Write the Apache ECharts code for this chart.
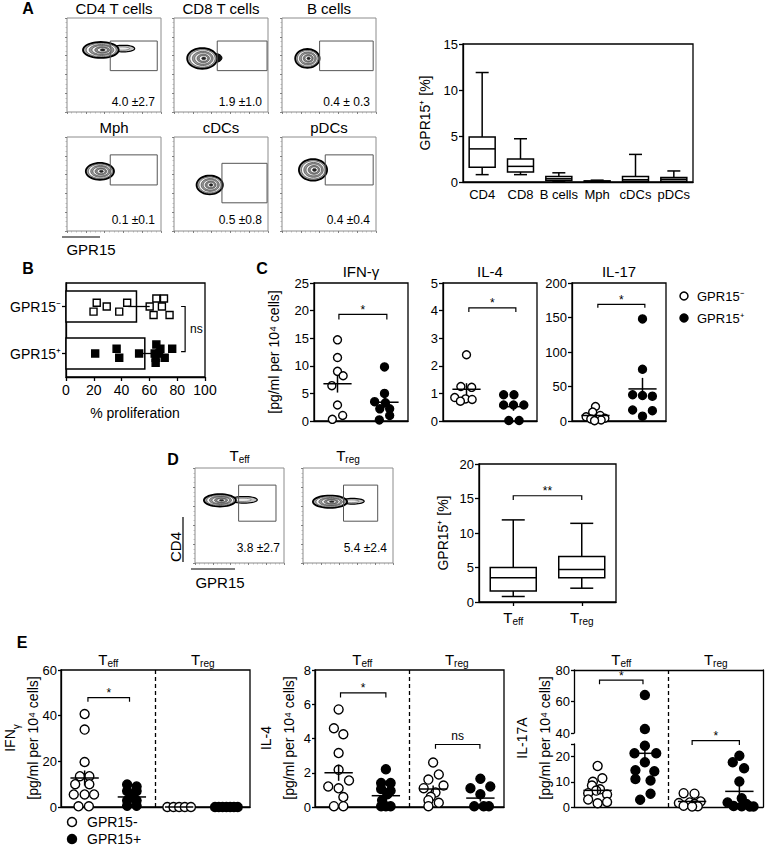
<!DOCTYPE html>
<html>
<head>
<meta charset="utf-8">
<title>GPR15 figure</title>
<script src="https://cdn.jsdelivr.net/npm/echarts@6.0.0/dist/echarts.min.js"></script>
<style>html,body{margin:0;padding:0;background:#fff;}#chart{width:766px;height:847px;}</style>
</head>
<body>
<div id="chart"></div>
<script>
// ======================= DATA =======================
// Panel A – flow cytometry panels
const flowTitlesA = ['CD4 T cells', 'CD8 T cells', 'B cells', 'Mph', 'cDCs', 'pDCs'];
const flowStatsA = ['4.0 \u00b12.7', '1.9 \u00b11.0', '0.4 \u00b1 0.3', '0.1 \u00b10.1', '0.5 \u00b10.8', '0.4 \u00b10.4'];
const flowGatesA = [[0.46,0.44,0.96,0.755],[0.46,0.44,0.99,0.755],[0.40,0.44,0.97,0.755],[0.46,0.49,0.96,0.81],[0.51,0.30,0.99,0.72],[0.46,0.49,0.97,0.81]];
// contour blobs: [cx, cy, rx, ry, kind] kind 0=core, 1=light tail, 2=dark tail
const flowBlobsA = [
  [[0.60,0.675,0.12,0.035,1],[0.36,0.66,0.19,0.085,0]],
  [[0.45,0.575,0.06,0.045,2],[0.30,0.57,0.16,0.11,0]],
  [[0.27,0.57,0.13,0.10,0]],
  [[0.35,0.635,0.15,0.09,0]],
  [[0.38,0.49,0.14,0.10,0]],
  [[0.33,0.65,0.15,0.115,0]]
];

// Panel A – box plot
const boxCatsA = ['CD4', 'CD8', 'B cells', 'Mph', 'cDCs', 'pDCs'];
const boxMinA = [0.8, 0.8, 0.05, 0.0, 0.0, 0.0];
const boxQ1A  = [1.6, 1.1, 0.15, 0.03, 0.08, 0.08];
const boxMedA = [3.6, 1.7, 0.35, 0.08, 0.25, 0.3];
const boxQ3A  = [4.9, 2.5, 0.6, 0.12, 0.6, 0.5];
const boxMaxA = [11.9, 4.7, 1.0, 0.2, 3.0, 1.2];

// Panel B – % proliferation
const catsB = ['GPR15\u207b', 'GPR15\u207a'];
const meanB = [50.7, 56.7];
const errLoB = [44.8, 53.0];
const errHiB = [60.2, 65.0];
const negXB = [19.8, 22.1, 29.3, 38.3, 44.0, 60.2, 63.0, 65.0, 70.5, 69.0, 74.5];
const negJB = [-0.11, 0.08, 0, -0.11, 0.08, 0, -0.18, 0.17, 0.17, 0, -0.18];
const posXB = [21.0, 36.4, 38.3, 52.6, 65.0, 63.8, 67.9, 64.5, 71.0, 76.4, 64.5, 67.0];
const posJB = [0, 0.1, -0.09, 0, 0.19, 0, 0.1, -0.09, -0.09, 0.1, -0.2, 0];

// Panel C – cytokines
const ifnNegC = [14.7, 11.5, 9.0, 8.2, 6.4, 2.9, 1.0, 0.3];
const ifnNegJC = [0, 0, 0, 0.12, -0.12, 0, 0.11, -0.11];
const ifnPosC = [9.8, 5.0, 3.5, 3.3, 2.2, 2.2, 1.0, 0.2];
const ifnPosJC = [0, 0, -0.21, 0.02, 0.11, -0.1, 0.11, -0.11];
const il4NegC = [2.4, 1.25, 1.22, 0.85, 0.8, 0.78, 0.72];
const il4NegJC = [0, -0.12, 0.11, -0.25, -0.02, 0.12, -0.13];
const il4PosC = [0.95, 0.95, 0.58, 0.58, 0.58, 0.02, 0.02];
const il4PosJC = [-0.21, 0.01, -0.21, 0, 0.22, -0.1, 0.12];
const il17NegC = [21, 13, 8, 6, 4, 3, 1.5, 0.5];
const il17NegJC = [0, -0.06, 0.1, -0.2, 0.2, -0.1, 0.12, -0.02];
const il17PosC = [148, 75, 38, 37, 36, 16, 15, 7];
const il17PosJC = [0, 0, -0.21, 0, 0.21, -0.21, 0.21, 0];
const meanIfnC = [6.75, 3.4], semIfnC = [1.6, 1.0];
const meanIl4C = [1.15, 0.52], semIl4C = [0.22, 0.15];
const meanIl17C = [8.0, 46.5], semIl17C = [2.5, 16];

// Panel D – Teff / Treg
const flowTitlesD = ['eff', 'reg'];
const flowStatsD = ['3.8 \u00b12.7', '5.4 \u00b12.4'];
const flowGatesD = [[0.49,0.44,0.91,0.82],[0.45,0.44,0.83,0.82]];
const flowBlobsD = [
  [[0.55,0.665,0.15,0.035,1],[0.28,0.66,0.18,0.065,0]],
  [[0.55,0.65,0.13,0.03,1],[0.30,0.645,0.19,0.065,0]]
];
const boxCatsD = ['eff', 'reg'];
const boxMinD = [0.8, 2.0];
const boxQ1D  = [1.6, 3.5];
const boxMedD = [3.5, 4.7];
const boxQ3D  = [5.0, 6.6];
const boxMaxD = [11.9, 11.4];

// Panel E – IFNγ
const eIfnTeffNeg  = [40.7, 33.9, 19.7, 13.5, 13.5, 10.0, 10.0, 5.5, 5.5, 5.5, 0.3, 0.3];
const eIfnTeffNegJ = [0, 0, 0, -0.1, 0.1, -0.2, 0.1, -0.23, 0, 0.2, -0.13, 0.09];
const eIfnTeffPos  = [9.8, 9.0, 7.0, 7.0, 5.0, 2.8, 2.8, 0.5, 0.5];
const eIfnTeffPosJ = [-0.1, 0.1, -0.1, 0.1, 0, -0.1, 0.1, -0.1, 0.1];
const eIfnTregNeg  = [0, 0, 0, 0, 0];
const eIfnTregNegJ = [-0.25, -0.12, 0, 0.12, 0.25];
const eIfnTregPos  = [0, 0, 0, 0, 0, 0, 0];
const eIfnTregPosJ = [-0.24, -0.16, -0.08, 0, 0.08, 0.16, 0.24];
const eIfnMean = [12.7, 4.4, 0, 0];
const eIfnSem  = [3.3, 1.0, 0, 0];
// Panel E – IL-4
const eIl4TeffNeg  = [5.7, 4.6, 4.25, 3.15, 2.17, 1.55, 1.2, 1.09, 0.58, 0.05, 0.05];
const eIl4TeffNegJ = [0, -0.1, 0.1, 0, 0, 0.22, -0.22, 0, 0.1, -0.1, 0.1];
const eIl4TeffPos  = [2.2, 1.4, 1.4, 1.05, 0.95, 0.75, 0.4, 0.05, 0.05, 0.05];
const eIl4TeffPosJ = [0, -0.1, 0.1, -0.1, 0.1, 0.03, -0.08, -0.1, 0.1, 0];
const eIl4TregNeg  = [2.6, 1.9, 1.6, 1.25, 1.1, 0.85, 0.6, 0.4, 0.25, 0.05];
const eIl4TregNegJ = [0, 0.12, -0.1, 0.22, -0.2, 0.05, -0.05, -0.1, 0.12, -0.1];
const eIl4TregPos  = [1.65, 1.2, 1.1, 0.75, 0.05, 0.05, 0.05];
const eIl4TregPosJ = [0, 0.21, -0.21, 0, -0.13, 0.07, 0.18];
const eIl4Mean = [2.0, 0.66, 1.05, 0.52];
const eIl4Sem  = [0.47, 0.22, 0.2, 0.2];
// Panel E – IL-17A (broken axis)
const eIl17TeffNeg  = [16.3, 11.4, 10, 8.5, 7, 6.5, 5.5, 5, 3, 2, 1.5];
const eIl17TeffNegJ = [0, 0.1, -0.1, -0.12, 0.05, -0.03, -0.2, 0.2, -0.2, 0.2, 0];
const eIl17TeffPos  = [64.2, 42.5, 24.3, 21.3, 21.3, 17.8, 14.6, 14.2, 11.1, 10.5, 5.3, 2.9];
const eIl17TeffPosJ = [0, 0, 0, -0.22, 0.24, 0, -0.2, 0.2, -0.2, 0.12, 0.12, -0.1];
const eIl17TregNeg  = [5.5, 5.3, 2.2, 1.8, 1.6, 1.2, 0.5, 0.3, 0.2];
const eIl17TregNegJ = [-0.18, 0.05, 0.18, -0.05, -0.28, 0.05, -0.18, 0.12, 0.0];
const eIl17TregPos  = [20.3, 17.8, 15.4, 10.1, 3.5, 1.8, 1.2, 0.4, 0.3, 0.2, 0.2];
const eIl17TregPosJ = [0, -0.14, 0.1, 0, 0.05, -0.25, 0.15, -0.12, 0.05, 0.22, 0.3];
const eIl17Mean = [6.6, 21.3, 2.2, 6.2];
const eIl17Sem  = [1.4, 3.3, 0.7, 2.2];

// ======================= BUILD =======================
const F = "'Liberation Sans', Arial, Helvetica, sans-serif";
const grids = [], xAxes = [], yAxes = [], series = [], graphic = [];

function addGrid(g, xa, ya) {
  grids.push(Object.assign({containLabel: false, outerBoundsMode: 'none'}, g));
  const gi = grids.length - 1;
  xAxes.push(Object.assign({gridIndex: gi}, xa));
  yAxes.push(Object.assign({gridIndex: gi}, ya));
  return {x: xAxes.length - 1, y: yAxes.length - 1};
}
const LINE = () => ({show: true, onZero: false, lineStyle: {color: '#000', width: 1.3}});
const NOLINE = () => ({show: false, onZero: false});
const TICK = (extra) => Object.assign({show: true, length: 4, lineStyle: {color: '#000', width: 1.3}}, extra || {});
const NOTICK = () => ({show: false});
const lbl = (size, extra) => Object.assign({show: true, color: '#000', fontFamily: F, fontSize: size, margin: 5}, extra || {});
const NOLBL = () => ({show: false});
const NOSPLIT = () => ({show: false});
const BORDER = {show: true, borderColor: '#000', borderWidth: 1.3, backgroundColor: 'transparent'};

function txt(x, y, text, o) {
  o = o || {};
  const st = {text: text, fill: '#000', fontFamily: F, fontSize: o.size || 14, fontWeight: o.weight || 'normal',
    textAlign: o.align || 'center', align: o.align || 'center', textVerticalAlign: 'middle', verticalAlign: 'middle'};
  if (o.rich) st.rich = o.rich;
  if (o.lineHeight) st.lineHeight = o.lineHeight;
  graphic.push({type: 'text', x: x, y: y, rotation: o.rot || 0, z: 100, silent: true, style: st});
}
function gline(x1, y1, x2, y2, w) {
  graphic.push({type: 'line', silent: true, z: 100, shape: {x1: x1, y1: y1, x2: x2, y2: y2}, style: {stroke: '#000', lineWidth: w || 1.3}});
}
function gcircle(cx, cy, r, filled) {
  graphic.push({type: 'circle', silent: true, z: 100, shape: {cx: cx, cy: cy, r: r}, style: {fill: filled ? '#000' : '#fff', stroke: '#000', lineWidth: 1.5}});
}
function subRich(size) {
  const s = Math.round(size * 0.66);
  return {
    t: {fontFamily: F, fontSize: size, lineHeight: size + 3, verticalAlign: 'middle', color: '#000', fill: '#000'},
    s: {fontFamily: F, fontSize: s, lineHeight: s, verticalAlign: 'bottom', color: '#000', fill: '#000'}
  };
}
function ellipsePts(cx, cy, rx, ry, n) {
  const p = [];
  for (let i = 0; i < n; i++) { const a = 2 * Math.PI * i / n; p.push([cx + rx * Math.cos(a), cy + ry * Math.sin(a)]); }
  return p;
}
function textEl(x, y, text, size, align) {
  return {type: 'text', x: x, y: y, style: {text: text, fill: '#000', fontFamily: F, fontSize: size, textAlign: align || 'center', align: align || 'center', textVerticalAlign: 'middle', verticalAlign: 'middle'}};
}

// ---- renderers ----
function blobRender(params, api) {
  const c = api.coord([api.value(0), api.value(1)]);
  const sz = api.size([api.value(2), api.value(3)]);
  const rx = sz[0], ry = sz[1], kind = api.value(4);
  const ch = [];
  if (kind === 1) {
    ch.push({type: 'polygon', shape: {points: ellipsePts(c[0], c[1], rx, ry, 36)}, style: {fill: '#c4c4c4', stroke: '#000', lineWidth: 1.2}});
    ch.push({type: 'polygon', shape: {points: ellipsePts(c[0] - rx * 0.15, c[1], rx * 0.7, ry * 0.5, 30)}, style: {fill: '#ececec', stroke: '#555', lineWidth: 0.6}});
  } else if (kind === 2) {
    ch.push({type: 'polygon', shape: {points: ellipsePts(c[0], c[1], rx, ry, 30)}, style: {fill: '#111', stroke: '#000', lineWidth: 1}});
  } else {
    const lv = [1, 0.84, 0.69, 0.55, 0.41, 0.28, 0.14];
    const fl = ['#a5a5a5', '#f6f6f6', '#9a9a9a', '#f0f0f0', '#888888', '#f4f4f4', '#222222'];
    lv.forEach(function (s, k) {
      ch.push({type: 'polygon', shape: {points: ellipsePts(c[0] + rx * (1 - s) * 0.12, c[1], rx * s, ry * s, 40)},
        style: {fill: fl[k], stroke: k === 0 ? '#000' : '#333', lineWidth: k === 0 ? 1.8 : 0.6}});
    });
  }
  return {type: 'group', children: ch};
}
function gateRender(params, api) {
  const a = api.coord([api.value(0), api.value(1)]), b = api.coord([api.value(2), api.value(3)]);
  return {type: 'rect', shape: {x: Math.min(a[0], b[0]), y: Math.min(a[1], b[1]), width: Math.abs(b[0] - a[0]), height: Math.abs(b[1] - a[1])},
    style: {fill: 'none', stroke: '#555', lineWidth: 1}};
}
function boxRender(halfW) {
  return function (params, api) {
    const x = api.value(0);
    const cx = api.coord([x, 0])[0];
    const y = function (v) { return api.coord([x, v])[1]; };
    const mn = y(api.value(1)), q1 = y(api.value(2)), md = y(api.value(3)), q3 = y(api.value(4)), mx = y(api.value(5));
    const st = {stroke: '#000', lineWidth: 1.5, fill: 'none'};
    const cap = halfW * 0.5;
    return {type: 'group', children: [
      {type: 'line', shape: {x1: cx, y1: mx, x2: cx, y2: q3}, style: st},
      {type: 'line', shape: {x1: cx, y1: q1, x2: cx, y2: mn}, style: st},
      {type: 'line', shape: {x1: cx - cap, y1: mx, x2: cx + cap, y2: mx}, style: st},
      {type: 'line', shape: {x1: cx - cap, y1: mn, x2: cx + cap, y2: mn}, style: st},
      {type: 'rect', shape: {x: cx - halfW, y: q3, width: 2 * halfW, height: q1 - q3}, style: {fill: '#fff', stroke: '#000', lineWidth: 1.5}},
      {type: 'line', shape: {x1: cx - halfW, y1: md, x2: cx + halfW, y2: md}, style: st}
    ]};
  };
}
function meanSeries(a, data, hw) {
  return {type: 'custom', xAxisIndex: a.x, yAxisIndex: a.y, data: data, z: 6, silent: true,
    renderItem: function (p, api) {
      const x = api.value(0), m = api.value(1), s = api.value(2);
      const pl = api.coord([x - hw, m]), pr = api.coord([x + hw, m]), pt = api.coord([x, m + s]), pb = api.coord([x, m - s]);
      const st = {stroke: '#000', lineWidth: 1.5};
      return {type: 'group', children: [
        {type: 'line', shape: {x1: pl[0], y1: pl[1], x2: pr[0], y2: pr[1]}, style: st},
        {type: 'line', shape: {x1: pt[0], y1: pt[1], x2: pb[0], y2: pb[1]}, style: st}
      ]};
    }};
}
function bracketSeries(a, items, labels) {
  return {type: 'custom', xAxisIndex: a.x, yAxisIndex: a.y, data: items, z: 6, silent: true,
    renderItem: function (p, api) {
      const x0 = api.value(0), x1 = api.value(1), y = api.value(2), yb = api.value(3);
      const A = api.coord([x0, y]), B = api.coord([x1, y]), Ab = api.coord([x0, yb]), Bb = api.coord([x1, yb]);
      const lab = labels[p.dataIndex];
      const star = lab.indexOf('*') >= 0;
      return {type: 'group', children: [
        {type: 'polyline', shape: {points: [Ab, A, B, Bb]}, style: {stroke: '#000', lineWidth: 1.2, fill: 'none'}},
        textEl((A[0] + B[0]) / 2, A[1] - (star ? 4.5 : 8.5), lab, 12)
      ]};
    }};
}
function scatter(a, data, filled, size, symbol) {
  return {type: 'scatter', xAxisIndex: a.x, yAxisIndex: a.y, data: data, symbol: symbol || 'circle', symbolSize: size,
    itemStyle: {color: filled ? '#000' : '#fff', borderColor: '#000', borderWidth: 1.4, opacity: 1}, silent: true, z: 3, clip: false};
}
function dividerSeries(a, x, y0, y1) {
  return {type: 'custom', xAxisIndex: a.x, yAxisIndex: a.y, data: [[x, y0, y1]], z: 2, silent: true,
    renderItem: function (p, api) {
      const t = api.coord([api.value(0), api.value(2)]), b = api.coord([api.value(0), api.value(1)]);
      return {type: 'line', shape: {x1: t[0], y1: t[1], x2: b[0], y2: b[1]}, style: {stroke: '#000', lineWidth: 1.3, lineDash: [4, 3]}};
    }};
}
function flowAxis() {
  return {type: 'value', min: 0, max: 1, interval: 0.2, axisLine: NOLINE(), axisLabel: NOLBL(), splitLine: NOSPLIT(),
    axisTick: {show: true, length: 2, lineStyle: {color: '#666', width: 0.8}},
    minorTick: {show: true, splitNumber: 4, length: 1.5, lineStyle: {color: '#999', width: 0.6}}};
}
function flowPlot(left, top, w, h, blobs, gate, stat, statPos) {
  const a = addGrid({left: left, top: top, width: w, height: h, show: true, borderColor: '#8c8c8c', borderWidth: 1, backgroundColor: '#fff'}, flowAxis(), flowAxis());
  series.push({type: 'custom', xAxisIndex: a.x, yAxisIndex: a.y, data: blobs, renderItem: blobRender, silent: true, z: 3});
  series.push({type: 'custom', xAxisIndex: a.x, yAxisIndex: a.y, data: [gate], renderItem: gateRender, silent: true, z: 4});
  series.push({type: 'custom', xAxisIndex: a.x, yAxisIndex: a.y, data: [statPos], silent: true, z: 5,
    renderItem: function (p, api) { const c = api.coord([api.value(0), api.value(1)]); return textEl(c[0], c[1], stat, 12, 'right'); }});
}

// ---------------- Panel A ----------------
txt(28, 8, 'A', {size: 16, weight: 'bold'});
const flowPosA = [[67, 18], [174, 18], [282, 18], [67, 137], [174, 137], [282, 137]];
flowTitlesA.forEach(function (t, i) {
  const p = flowPosA[i];
  flowPlot(p[0], p[1], 94, 94, flowBlobsA[i], flowGatesA[i], flowStatsA[i], i < 3 ? [0.936, 0.106] : [0.936, 0.116]);
  txt(p[0] + 47, p[1] - 10, t, {size: 15});
});
gline(62, 237, 100, 237, 1.2);
txt(91, 249, 'GPR15', {size: 15});

{
  const a = addGrid(Object.assign({left: 463, top: 44, width: 230, height: 138}, BORDER),
    {type: 'category', data: boxCatsA, axisLine: LINE(), axisTick: NOTICK(), axisLabel: lbl(13, {margin: 6, interval: 0})},
    {type: 'value', min: 0, max: 15, interval: 5, axisLine: LINE(), axisTick: TICK(), axisLabel: lbl(13), splitLine: NOSPLIT()});
  series.push({type: 'custom', xAxisIndex: a.x, yAxisIndex: a.y, silent: true, z: 5,
    data: boxCatsA.map(function (c, i) { return [i, boxMinA[i], boxQ1A[i], boxMedA[i], boxQ3A[i], boxMaxA[i]]; }),
    renderItem: boxRender(13)});
  txt(425, 113, 'GPR15\u207a [%]', {size: 14, rot: Math.PI / 2});
}

// ---------------- Panel B ----------------
txt(28, 268, 'B', {size: 16, weight: 'bold'});
{
  const a = addGrid(Object.assign({left: 66, top: 283, width: 139, height: 94}, BORDER),
    {type: 'value', min: 0, max: 100, interval: 20, axisLine: LINE(), axisTick: TICK(), axisLabel: lbl(14, {margin: 6}), splitLine: NOSPLIT()},
    {type: 'value', min: 0, max: 2, axisLine: LINE(), axisTick: TICK({customValues: [0.5, 1.5]}),
      axisLabel: lbl(14, {customValues: [0.5, 1.5], formatter: function (v) { return v > 1 ? catsB[0] : catsB[1]; }}), splitLine: NOSPLIT()});
  series.push({type: 'custom', xAxisIndex: a.x, yAxisIndex: a.y, silent: true, z: 2,
    data: [[meanB[0], 1.5], [meanB[1], 0.5]],
    renderItem: function (p, api) {
      const m = api.value(0), y = api.value(1);
      const s = api.coord([0, y + 0.33]), e = api.coord([m, y - 0.33]);
      return {type: 'rect', shape: {x: s[0], y: s[1], width: e[0] - s[0], height: e[1] - s[1]}, style: {fill: '#fff', stroke: '#000', lineWidth: 1.5}};
    }});
  series.push({type: 'custom', xAxisIndex: a.x, yAxisIndex: a.y, silent: true, z: 4,
    data: [[errLoB[0], errHiB[0], 1.5], [errLoB[1], errHiB[1], 0.5]],
    renderItem: function (p, api) {
      const l = api.coord([api.value(0), api.value(2)]), r = api.coord([api.value(1), api.value(2)]);
      return {type: 'line', shape: {x1: l[0], y1: l[1], x2: r[0], y2: r[1]}, style: {stroke: '#000', lineWidth: 1.3}};
    }});
  series.push(scatter(a, negXB.map(function (x, i) { return [x, 1.5 + negJB[i]]; }), false, 7, 'rect'));
  series.push(scatter(a, posXB.map(function (x, i) { return [x, 0.5 + posJB[i]]; }), true, 7, 'rect'));
  series.push({type: 'custom', xAxisIndex: a.x, yAxisIndex: a.y, silent: true, z: 6,
    data: [[85.7, 82.8, 1.5, 0.54]],
    renderItem: function (p, api) {
      const x = api.value(0), xt = api.value(1), y0 = api.value(2), y1 = api.value(3);
      const T = api.coord([x, y0]), Bm = api.coord([x, y1]), Tt = api.coord([xt, y0]), Bt = api.coord([xt, y1]);
      return {type: 'group', children: [
        {type: 'polyline', shape: {points: [Tt, T, Bm, Bt]}, style: {stroke: '#000', lineWidth: 1.2, fill: 'none'}},
        textEl(T[0] + 5, (T[1] + Bm[1]) / 2, 'ns', 12, 'left')
      ]};
    }});
  txt(135, 413, '% proliferation', {size: 14});
}

// ---------------- Panel C ----------------
txt(262, 268, 'C', {size: 16, weight: 'bold'});
function cPlot(left, title, max, interval, neg, negJ, pos, posJ, means, sems, br) {
  const a = addGrid(Object.assign({left: left, top: 283, width: 94, height: 138}, BORDER),
    {type: 'value', min: -0.5, max: 1.5, axisLine: LINE(), axisTick: NOTICK(), axisLabel: NOLBL(), splitLine: NOSPLIT()},
    {type: 'value', min: 0, max: max, interval: interval, axisLine: LINE(), axisTick: TICK(), axisLabel: lbl(13), splitLine: NOSPLIT()});
  series.push(scatter(a, neg.map(function (v, i) { return [negJ[i], v]; }), false, 8));
  series.push(scatter(a, pos.map(function (v, i) { return [1 + posJ[i], v]; }), true, 8));
  series.push(meanSeries(a, [[0, means[0], sems[0]], [1, means[1], sems[1]]], 0.3));
  series.push(bracketSeries(a, [br], ['*']));
  txt(left + 47, 271, title, {size: 15});
}
cPlot(314, 'IFN-\u03b3', 25, 5, ifnNegC, ifnNegJC, ifnPosC, ifnPosJC, meanIfnC, semIfnC, [0.03, 1.05, 19.3, 18.4]);
cPlot(443, 'IL-4', 5, 1, il4NegC, il4NegJC, il4PosC, il4PosJC, meanIl4C, semIl4C, [0.05, 1.05, 4.1, 3.95]);
cPlot(572, 'IL-17', 200, 50, il17NegC, il17NegJC, il17PosC, il17PosJC, meanIl17C, semIl17C, [0.05, 1.05, 169, 164]);
txt(274, 352, '[pg/ml per 10\u2074 cells]', {size: 14, rot: Math.PI / 2});
gcircle(684, 296, 4, false);
gcircle(684, 318, 4, true);
txt(697, 296, 'GPR15\u207b', {size: 13, align: 'left'});
txt(697, 318, 'GPR15\u207a', {size: 13, align: 'left'});

// ---------------- Panel D ----------------
txt(173, 459, 'D', {size: 16, weight: 'bold'});
const flowPosD = [[195, 468, 89], [303, 468, 90]];
flowTitlesD.forEach(function (t, i) {
  const p = flowPosD[i];
  flowPlot(p[0], p[1], p[2], 95, flowBlobsD[i], flowGatesD[i], flowStatsD[i], i === 0 ? [0.955, 0.158] : [0.933, 0.158]);
  txt(p[0] + p[2] / 2, 455, '{t|T}{s|' + t + '}', {rich: subRich(15)});
});
txt(175, 547, 'CD4', {size: 15, rot: Math.PI / 2});
gline(183, 517, 183, 562, 1.2);
txt(220, 582, 'GPR15', {size: 15});
gline(191, 569, 235, 569, 1.2);
{
  const a = addGrid(Object.assign({left: 479, top: 464, width: 137, height: 138}, BORDER),
    {type: 'category', data: boxCatsD, axisLine: LINE(), axisTick: TICK({alignWithLabel: true}),
      axisLabel: lbl(15, {margin: 6, interval: 0, formatter: function (v) { return '{t|T}{s|' + v + '}'; }, rich: subRich(15)})},
    {type: 'value', min: 0, max: 20, interval: 5, axisLine: LINE(), axisTick: TICK(), axisLabel: lbl(13), splitLine: NOSPLIT()});
  series.push({type: 'custom', xAxisIndex: a.x, yAxisIndex: a.y, silent: true, z: 5,
    data: boxCatsD.map(function (c, i) { return [i, boxMinD[i], boxQ1D[i], boxMedD[i], boxQ3D[i], boxMaxD[i]]; }),
    renderItem: boxRender(23)});
  series.push(bracketSeries(a, [[0.04, 0.97, 15.4, 14.8]], ['**']));
  txt(443, 533, 'GPR15\u207a [%]', {size: 14, rot: Math.PI / 2});
}

// ---------------- Panel E ----------------
txt(22, 642, 'E', {size: 16, weight: 'bold'});
const eFilled = [false, true, false, true];
function ePlot(left, max, interval, groups, jits, means, sems, brs, labs) {
  const a = addGrid(Object.assign({left: left, top: 670, width: 189, height: 137}, BORDER),
    {type: 'value', min: 0, max: 4, axisLine: LINE(), axisTick: NOTICK(), axisLabel: NOLBL(), splitLine: NOSPLIT()},
    {type: 'value', min: 0, max: max, interval: interval, axisLine: LINE(), axisTick: TICK({length: 3}), axisLabel: lbl(13, {margin: 4}), splitLine: NOSPLIT()});
  series.push(dividerSeries(a, 2, 0, max));
  groups.forEach(function (g, k) {
    series.push(scatter(a, g.map(function (v, i) { return [k + 0.5 + jits[k][i], v]; }), eFilled[k], 9));
  });
  series.push(meanSeries(a, means.map(function (m, k) { return [k + 0.5, m, sems[k]]; }), 0.3));
  series.push(bracketSeries(a, brs, labs));
  eTitles(left);
}
function eTitles(left) {
  txt(left + 189 * 0.25, 659, '{t|T}{s|eff}', {rich: subRich(15)});
  txt(left + 189 * 0.75, 659, '{t|T}{s|reg}', {rich: subRich(15)});
}
const eNameRich = {
  a: {fontFamily: F, fontSize: 14, lineHeight: 23, verticalAlign: 'middle', fill: '#000', color: '#000'},
  g: {fontFamily: F, fontSize: 10, lineHeight: 12, verticalAlign: 'bottom', fill: '#000', color: '#000'}
};
ePlot(61, 60, 20,
  [eIfnTeffNeg, eIfnTeffPos, eIfnTregNeg, eIfnTregPos], [eIfnTeffNegJ, eIfnTeffPosJ, eIfnTregNegJ, eIfnTregPosJ],
  eIfnMean, eIfnSem, [[0.57, 1.45, 47.9, 46.1]], ['*']);
txt(21, 738, '{a|IFN}{g|\u03b3}\n{a|[pg/ml per 10\u2074 cells]}', {rot: Math.PI / 2, rich: eNameRich});
ePlot(315, 8, 2,
  [eIl4TeffNeg, eIl4TeffPos, eIl4TregNeg, eIl4TregPos], [eIl4TeffNegJ, eIl4TeffPosJ, eIl4TregNegJ, eIl4TregPosJ],
  eIl4Mean, eIl4Sem, [[0.54, 1.5, 6.66, 6.4], [2.55, 3.49, 3.65, 3.4]], ['*', 'ns']);
txt(277, 738, '{a|IL-4}\n{a|[pg/ml per 10\u2074 cells]}', {rot: Math.PI / 2, rich: eNameRich});

// IL-17A with broken y axis
{
  const left = 574, w = 189;
  const ov = addGrid({left: left, top: 670, width: w, height: 137},
    {type: 'value', min: 0, max: 4, position: 'top', axisLine: LINE(), axisTick: NOTICK(), axisLabel: NOLBL(), splitLine: NOSPLIT()},
    {type: 'value', min: 0, max: 1, position: 'right', axisLine: LINE(), axisTick: NOTICK(), axisLabel: NOLBL(), splitLine: NOSPLIT()});
  const up = addGrid({left: left, top: 670, width: w, height: 63},
    {type: 'value', min: 0, max: 4, axisLine: NOLINE(), axisTick: NOTICK(), axisLabel: NOLBL(), splitLine: NOSPLIT()},
    {type: 'value', min: 40, max: 80, interval: 20, axisLine: LINE(), axisTick: TICK({length: 3}), axisLabel: lbl(13, {margin: 4}), splitLine: NOSPLIT()});
  const lo = addGrid({left: left, top: 744, width: w, height: 63},
    {type: 'value', min: 0, max: 4, axisLine: LINE(), axisTick: NOTICK(), axisLabel: NOLBL(), splitLine: NOSPLIT()},
    {type: 'value', min: 0, max: 25, axisLine: LINE(), axisTick: TICK({length: 3, customValues: [0, 10, 20, 25]}),
      axisLabel: lbl(13, {margin: 4, customValues: [0, 10, 20]}), splitLine: NOSPLIT()});
  series.push(dividerSeries(ov, 2, 0, 1));
  const groups = [eIl17TeffNeg, eIl17TeffPos, eIl17TregNeg, eIl17TregPos];
  const jits = [eIl17TeffNegJ, eIl17TeffPosJ, eIl17TregNegJ, eIl17TregPosJ];
  groups.forEach(function (g, k) {
    const hi = [], low = [];
    g.forEach(function (v, i) { (v >= 40 ? hi : low).push([k + 0.5 + jits[k][i], v]); });
    if (low.length) series.push(scatter(lo, low, eFilled[k], 9));
    if (hi.length) series.push(scatter(up, hi, eFilled[k], 9));
  });
  series.push(meanSeries(lo, eIl17Mean.map(function (m, k) { return [k + 0.5, m, eIl17Sem[k]]; }), 0.3));
  series.push(bracketSeries(up, [[0.54, 1.46, 73.6, 71]], ['*']));
  series.push(bracketSeries(lo, [[2.5, 3.5, 26.3, 24.6]], ['*']));
  eTitles(left);
  txt(533, 738, '{a|IL-17A}\n{a|[pg/ml per 10\u2074 cells]}', {rot: Math.PI / 2, rich: eNameRich});
}
gcircle(72, 822, 4.5, false);
gcircle(72, 839, 4.5, true);
txt(87, 822, 'GPR15-', {size: 14, align: 'left'});
txt(87, 839, 'GPR15+', {size: 14, align: 'left'});

// ======================= RENDER =======================
const chart = echarts.init(document.getElementById('chart'), null, {renderer: 'svg', width: 766, height: 847});
chart.setOption({
  animation: false,
  backgroundColor: '#fff',
  textStyle: {fontFamily: F, color: '#000'},
  grid: grids,
  xAxis: xAxes,
  yAxis: yAxes,
  series: series,
  graphic: {elements: graphic}
});
</script>
</body>
</html>
